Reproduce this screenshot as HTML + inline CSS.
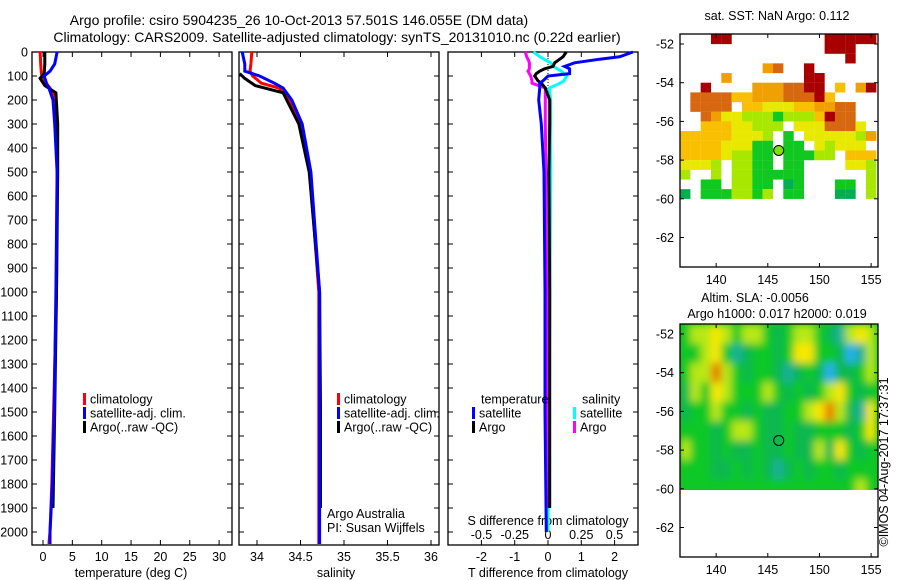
<!DOCTYPE html>
<html><head><meta charset="utf-8"><style>
html,body{margin:0;padding:0;background:#fff}
svg{display:block;font-family:"Liberation Sans",sans-serif}
text{fill:#000}
</style></head><body>
<svg id="fig" width="900" height="580" viewBox="0 0 900 580">
<defs>
<filter id="blur" x="-5%" y="-5%" width="110%" height="110%"><feGaussianBlur stdDeviation="4"/></filter>
<clipPath id="slaClip"><rect x="680" y="324" width="198" height="166"/></clipPath>
</defs>
<text x="299" y="25" font-size="14" text-anchor="middle">Argo profile: csiro 5904235_26 10-Oct-2013 57.501S 146.055E (DM data)</text>
<text x="337" y="42" font-size="14" text-anchor="middle">Climatology: CARS2009. Satellite-adjusted climatology: synTS_20131010.nc (0.22d earlier)</text>
<g id="g"></g>
</svg>
<script>
// ---------- data ----------
const depthTicks = [0,100,200,300,400,500,600,700,800,900,1000,1100,1200,1300,1400,1500,1600,1700,1800,1900,2000];
const tempTicks = [0,5,10,15,20,25,30];
const salTicks = [34,34.5,35,35.5,36];
const tdiffTicks = [-2,-1,0,1,2];
const sdiffTicks = [-0.5,-0.25,0,0.25,0.5];
const sdiffLabels = ["-0.5","-0.25","0","0.25","0.5"];
// temperature profiles
const climDepth = [0,50,80,100,130,150,200,300,500,1000,1500,1800,2000,2050];
const tClim = [-0.5,-0.4,-0.3,-0.2,0.5,1.2,2.2,2.4,2.4,2.3,1.8,1.5,1.2,1.0];
const tSat  = [2.4,2.0,1.2,0.2,0.6,1.0,1.7,2.0,2.4,2.2,1.9,1.6,1.2,1.2];
const argoDepth = [0,50,90,110,140,170,300,500,1000,1500,1900];
const tArgo = [0.3,0.3,0.2,-0.5,0.3,2.2,2.5,2.5,2.3,2.0,1.7];
// salinity profiles
const sClim = [33.94,33.93,33.92,33.95,34.05,34.25,34.38,34.50,34.61,34.71,34.71,34.71,34.71,34.71];
const sSat  = [33.83,33.86,33.86,34.03,34.20,34.30,34.40,34.52,34.62,34.72,34.72,34.72,34.72,34.72];
const sArgo = [null,null,33.80,33.86,33.98,34.30,34.48,34.60,34.72,34.73,34.73];
// differences
const diffDepth = [0,20,30,45,60,70,80,90,100,120,130,150,200,300,500,1000,1500,2000];
const tdSat  = [2.55,2.15,1.55,0.8,0.5,0.65,0.65,0.65,0,-0.15,-0.25,-0.25,-0.28,-0.2,-0.12,-0.09,-0.09,-0.05];
const tdArgo = [0.55,0.45,0.35,0.2,0.15,-0.1,-0.25,-0.35,-0.4,-0.3,-0.2,-0.08,0.05,0.05,0.03,0.05,0.05,0.05];
const sdSat  = [-0.11,-0.06,-0.03,0.02,0.04,0.07,0.1,0.12,0.14,0.12,0.09,0.01,0.02,0.02,0.02,0.015,0.01,0];
const sdArgo = [-0.17,-0.16,-0.15,-0.14,-0.14,-0.14,-0.15,-0.14,-0.13,-0.12,-0.12,-0.02,-0.02,-0.02,-0.015,-0.01,-0.005,0];
// maps
const mapLatTicks = [-52,-54,-56,-58,-60,-62];
const mapLonTicks = [140,145,150,155];
const mapLons = [137,138,139,140,141,142,143,144,145,146,147,148,149,150,151,152,153,154,155];
const sstRows = [
"...88.........88888",
"..............888..",
"................8..",
"........67..8......",
"....6.......88.....",
"..8....6667788.5.68",
".77775566677785....",
".7777.55444556677..",
"..764433323335877..",
"..55544333.4447774.",
"555554443.2.4444436",
"555544422.22.43444.",
"555543322.22233.555",
"4443.3322.22....443",
"3..3.3322222......3",
"..22.3322.12...22.3",
"1.2223323.22...11.3"];
const slaRows = [
"3445434432344321454",
"3345312332355332014",
"3446432332123202234",
"2435433343232345323",
"2334332322334564215",
"3332344322322333235",
"4332322322322425323",
"3332232321232332333",
"3333333333333333343"];
const argoLon = 146.055, argoLat = -57.501;

// ---------- helpers ----------
const NS = "http://www.w3.org/2000/svg";
const G = document.getElementById('g');
const FS = 12.5;
function el(tag, attrs, parent){const e=document.createElementNS(NS,tag);for(const k in attrs)e.setAttribute(k,attrs[k]);(parent||G).appendChild(e);return e;}
function txt(x,y,s,size,anchor,parent){const t=el('text',{x:x,y:y,'font-size':size,'text-anchor':anchor||'middle'},parent);t.textContent=s;return t;}
const yD = d => 52 + d*0.24;
const xT = t => 43 + t*5.87;
const xS = s => 257 + (s-34)*87;
const xTd = t => 548 + t*33.3;
const xSd = s => 548 + s*133;
const P = [{x0:32,x1:232},{x0:239,x1:439},{x0:448,x1:638}];
const TOP=52, BOT=545;

function line(xs, ds, fx, color, name){
  let pts=[];
  for(let i=0;i<xs.length;i++){ if(xs[i]===null) continue; pts.push(fx(xs[i]).toFixed(1)+','+yD(ds[i]).toFixed(1)); }
  const p=el('polyline',{points:pts.join(' '),fill:'none',stroke:color,'stroke-width':3,'stroke-linejoin':'miter'});
  
  
}

P.forEach((p,i)=>{
  const r=el('rect',{x:p.x0,y:TOP,width:p.x1-p.x0,height:BOT-TOP,fill:'none',stroke:'#000','stroke-width':1.3});
  
  
  depthTicks.forEach(d=>{
    el('line',{x1:p.x0,x2:p.x0+5,y1:yD(d),y2:yD(d),stroke:'#000'});
    el('line',{x1:p.x1-5,x2:p.x1,y1:yD(d),y2:yD(d),stroke:'#000'});
  });
});
depthTicks.forEach(d=>{
  const t=txt(28,yD(d)+4.5,String(d),FS,'end');
  
  
});
tempTicks.forEach(v=>{
  el('line',{x1:xT(v),x2:xT(v),y1:BOT,y2:BOT-5,stroke:'#000'});
  el('line',{x1:xT(v),x2:xT(v),y1:TOP,y2:TOP+5,stroke:'#000'});
  const t=txt(xT(v),561,String(v),FS);
  
  
});
let t1=txt(131,577,'temperature (deg C)',FS);  
salTicks.forEach(v=>{
  el('line',{x1:xS(v),x2:xS(v),y1:BOT,y2:BOT-5,stroke:'#000'});
  el('line',{x1:xS(v),x2:xS(v),y1:TOP,y2:TOP+5,stroke:'#000'});
  const t=txt(xS(v),561,String(v),FS);
  
  
});
let t2=txt(336,577,'salinity',FS);  
tdiffTicks.forEach(v=>{
  el('line',{x1:xTd(v),x2:xTd(v),y1:BOT,y2:BOT-5,stroke:'#000'});
  el('line',{x1:xTd(v),x2:xTd(v),y1:TOP,y2:TOP+5,stroke:'#000'});
  const t=txt(xTd(v),561,String(v),FS);
  
  
});
sdiffTicks.forEach((v,i)=>{
  const t=txt(xSd(v),539,sdiffLabels[i],FS);
  
  
});
let t3=txt(548,525,'S difference from climatology',FS);  
let t4=txt(548,577,'T difference from climatology',FS);  

el('line',{x1:548,x2:548,y1:TOP,y2:yD(200),stroke:'#000','stroke-dasharray':'1,2'});

line(tClim, climDepth, xT, '#ff0000', 'temperature-climatology-line');
line(tArgo, argoDepth, xT, '#000000', 'temperature-argo-line');
line(tSat, climDepth, xT, '#0000ff', 'temperature-satellite-line');
line(sClim, climDepth, xS, '#ff0000', 'salinity-climatology-line');
line(sArgo, argoDepth, xS, '#000000', 'salinity-argo-line');
line(sSat, climDepth, xS, '#0000ff', 'salinity-satellite-line');
line(sdSat, diffDepth, xSd, '#00ffff', 'salinity-diff-satellite-line');
line(sdArgo, diffDepth.slice(0,17).concat([1900]), xSd, '#ff00ff', 'salinity-diff-argo-line');
line(tdArgo, diffDepth.slice(0,17).concat([1900]), xTd, '#000000', 'temperature-diff-argo-line');
line(tdSat, diffDepth, xTd, '#0000ff', 'temperature-diff-satellite-line');

function leg(x,y,color,label,name){
  const g=el('g',{});
  
  
  if(color) el('rect',{x:x,y:y-6,width:3,height:12,fill:color},g);
  txt(x+7,y+4.5,label,FS,'start',g);
}
leg(83,399,'#ff0000','climatology','legend-entry-climatology');
leg(83,413,'#0000ff','satellite-adj. clim.','legend-entry-satellite');
leg(83,427,'#000000','Argo(..raw -QC)','legend-entry-argo');
leg(337,399,'#ff0000','climatology','legend-entry-climatology-2');
leg(337,413,'#0000ff','satellite-adj. clim.','legend-entry-satellite-2');
leg(337,427,'#000000','Argo(..raw -QC)','legend-entry-argo-2');
leg(474,399,null,'temperature','legend-heading-temperature');
leg(472,413,'#0000ff','satellite','legend-entry-t-satellite');
leg(472,427,'#000000','Argo','legend-entry-t-argo');
leg(575,399,null,'salinity','legend-heading-salinity');
leg(573,413,'#00ffff','satellite','legend-entry-s-satellite');
leg(573,427,'#ff00ff','Argo','legend-entry-s-argo');
let a1=txt(327,518,'Argo Australia',FS,'start');  
let a2=txt(327,532,'PI: Susan Wijffels',FS,'start');  

// ---------- maps ----------
const mLon = (lon) => 680 + (lon-136.5)*10.33;
function drawMap(top, name){
  const yL = lat => top + 10 + (-52-lat)*19.35;
  const r=el('rect',{x:680,y:top,width:198,height:233,fill:'none',stroke:'#000','stroke-width':1.3});
  
  
  mapLatTicks.forEach(v=>{
    el('line',{x1:680,x2:684,y1:yL(v),y2:yL(v),stroke:'#000'});
    el('line',{x1:874,x2:878,y1:yL(v),y2:yL(v),stroke:'#000'});
    const t=txt(674,yL(v)+4.5,String(v),FS,'end');
    
    
  });
  mapLonTicks.forEach(v=>{
    el('line',{x1:mLon(v),x2:mLon(v),y1:top,y2:top+4,stroke:'#000'});
    el('line',{x1:mLon(v),x2:mLon(v),y1:top+229,y2:top+233,stroke:'#000'});
    const t=txt(mLon(v),top+250,String(v),FS);
    
    
  });
  return yL;
}
const sstColors = {'1':'#00b050','2':'#10c820','3':'#a8e800','4':'#e8e800','5':'#f8c000','6':'#f0a000','7':'#d86810','8':'#a80000'};
const slaColors = ['#28b0f0','#18b098','#10b850','#10c828','#b8e818','#f8e800','#e88000'];
const sstG = el('g',{});


const yS = drawMap(34,'sst-map');
sstRows.forEach((row,i)=>{
  const latTop = -51.5 - i*0.5;
  for(let j=0;j<row.length;j++){
    const c=row[j]; if(c==='.') continue;
    el('rect',{x:mLon(mapLons[j]-0.5),y:yS(latTop),width:10.4,height:9.8,fill:sstColors[c]},sstG);
  }
});
const c1=el('circle',{cx:mLon(argoLon),cy:yS(argoLat),r:5,fill:'#80e000',stroke:'#000'});


let m1=txt(777,20,'sat. SST: NaN Argo: 0.112',FS);  
const slaG = el('g',{'clip-path':'url(#slaClip)'});


el('rect',{x:680,y:324,width:198,height:166,fill:'#10c028'},slaG);
const slaInner = el('g',{filter:'url(#blur)'},slaG);
const yA = lat => 324 + 10 + (-52-lat)*19.35;
slaRows.forEach((row,i)=>{
  const latTop = -51.5 - i;
  for(let j=0;j<row.length;j++){
    el('rect',{x:mLon(mapLons[j]-0.5),y:yA(latTop),width:10.6,height:19.6,fill:slaColors[+row[j]]},slaInner);
  }
});
drawMap(324,'sla-map');
const c2=el('circle',{cx:mLon(argoLon),cy:yA(argoLat),r:5,fill:'none',stroke:'#000'});


let m2=txt(755,302,'Altim. SLA: -0.0056',FS);  
let m3=txt(777,318,'Argo h1000: 0.017 h2000: 0.019',FS);  
let cp=txt(0,0,'©IMOS 04-Aug-2017 17:37:31',FS);
cp.setAttribute('transform','translate(888,462) rotate(-90)');


</script>
</body></html>
